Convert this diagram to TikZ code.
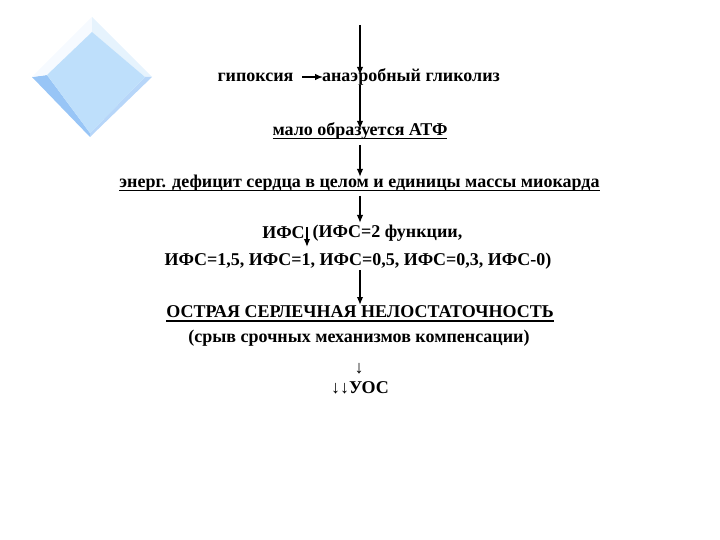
\documentclass[tikz,border=0pt]{standalone}
\usepackage{fontspec}
\setmainfont{Liberation Serif}
\usepackage{tikz}
\usetikzlibrary{arrows.meta}

\definecolor{faceblue}{RGB}{190,223,251}
\definecolor{darkbevel}{RGB}{152,197,246}
\definecolor{lightbevel}{RGB}{230,243,253}
\definecolor{palebevel}{RGB}{246,250,255}

\begin{document}
\begin{tikzpicture}[x=1pt, y=-1pt]
\tikzset{ >={Latex[length=8pt,width=6.5pt]}, inner sep=0pt, outer sep=0pt,
  txt/.style={font=\fontsize{18}{21}\selectfont\bfseries},
  arr/.style={->, line width=1.5pt},
  uline/.style={line width=1.3pt},
}
\useasboundingbox (0,0) rectangle (720,540);

% beveled diamond
\fill [darkbevel]  (32,77)--(47,75)--(90,133)--(90,137)--cycle;
\fill [palebevel]  (32,77)--(92,17)--(92,32)--(47,75)--cycle;
\fill [lightbevel] (92,17)--(152,77)--(145,77)--(92,32)--cycle;
\fill [darkbevel!70] (152,77)--(90,137)--(90,133)--(145,77)--cycle;
\fill [faceblue]   (92,32)--(145,77)--(90,133)--(47,75)--cycle;

\coordinate (top) at (360,25);

\node [txt] (hyp)  at (255.5, 77) {гипоксия};
\node [txt] (glyc) at (411.0, 77) {анаэробный гликолиз};
\node [txt] (atp)  at (360.0,131) {мало образуется АТФ};
\node [txt] (def)  at (359.5,183) {энерг. дефицит сердца в целом и единицы массы миокарда};
\node [txt] (ifsA) at (283.5,233) {ИФС};
\node [txt] (ifsB) at (387.5,233) {(ИФС=2 функции,};
\node [txt] (ifsC) at (358.0,261) {ИФС=1,5, ИФС=1, ИФС=0,5, ИФС=0,3, ИФС-0)};
\node [txt] (osn)  at (360.0,312) {ОСТРАЯ СЕРЛЕЧНАЯ НЕЛОСТАТОЧНОСТЬ};
\node [txt] (sryv) at (359.0,338) {(срыв срочных механизмов компенсации)};
\node [txt] (down) at (359.0,369) {↓};
\node [txt] (uos)  at (360.0,388) {↓↓УОС};

% underlines
\foreach \n in {atp, def, osn}
  \draw [uline] ([yshift=-3pt]\n.base west) -- ([yshift=-3pt]\n.base east);

\coordinate (fall) at (307,227);

\draw [arr] (top) -- (360,75);
\draw [arr, shorten <=9pt, shorten >=-1pt] (hyp) -- (glyc);
\draw [arr] (360,85) -- (360,129);
\draw [arr] (360,145) -- (360,177);
\draw [arr] (360,196) -- (360,223);
\draw [arr] (fall) -- (307,247);
\draw [arr] (360,270) -- (360,305);

\end{tikzpicture}
\end{document}
